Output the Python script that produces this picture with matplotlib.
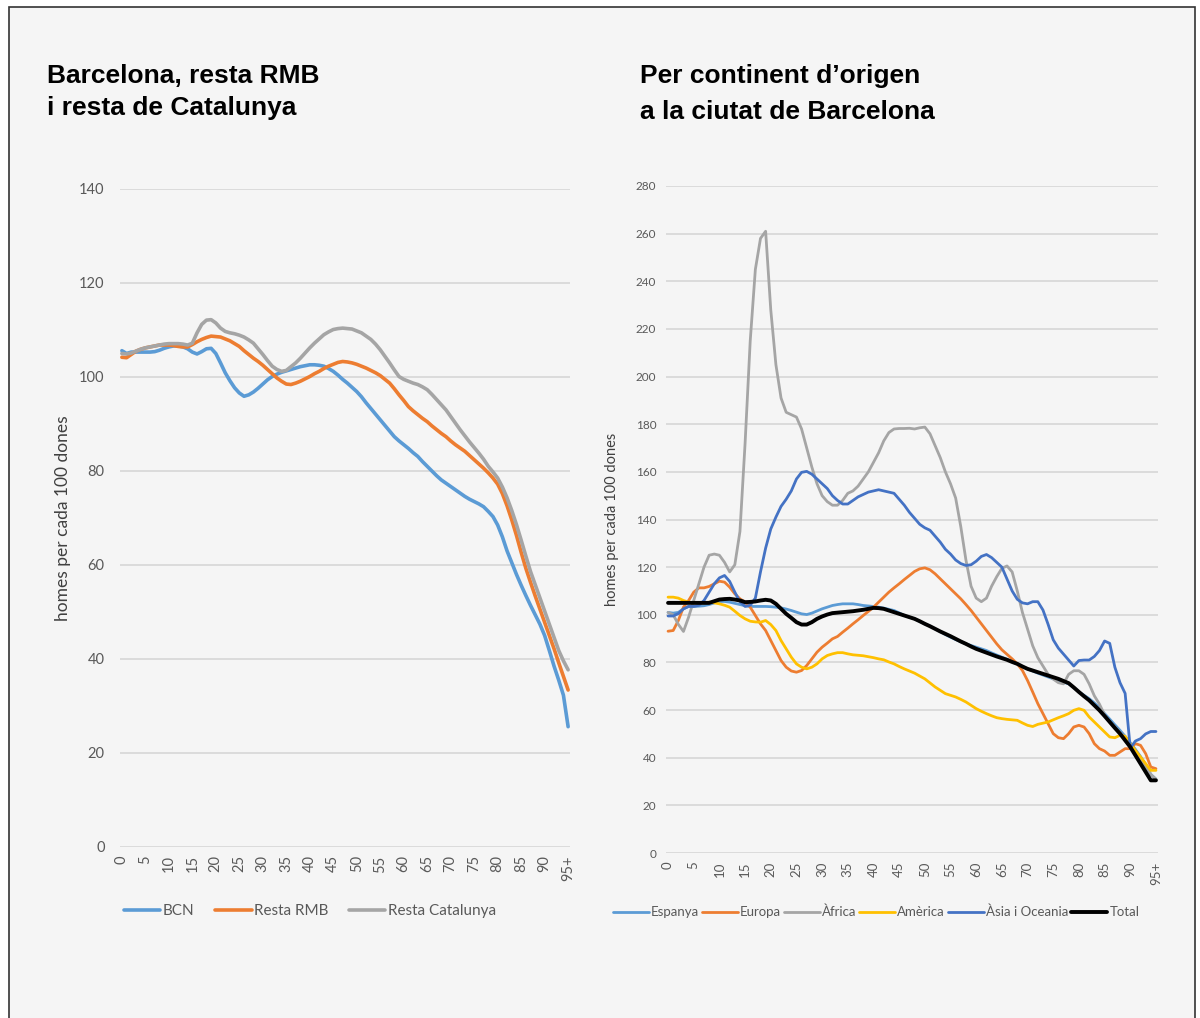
import matplotlib
matplotlib.use("Agg")
import matplotlib.pyplot as plt
from matplotlib.patches import Rectangle

# ---------------- data ----------------
ages = list(range(96))
age_tick_pos = list(range(0, 96, 5))
age_tick_labels = [str(a) for a in range(0, 95, 5)] + ["95+"]

# Left chart
bcn = [105.6, 105.0, 105.3, 105.3, 105.3, 105.3, 105.3, 105.4, 105.7, 106.1,
       106.4, 106.6, 106.6, 106.4, 106.0, 105.3, 104.9, 105.4, 106.0, 106.1,
       105.0, 103.0, 100.9, 99.2, 97.7, 96.6, 95.9, 96.2, 96.8, 97.6,
       98.5, 99.4, 100.1, 100.6, 101.0, 101.3, 101.6, 101.9, 102.2, 102.4,
       102.6, 102.6, 102.5, 102.3, 101.8, 101.2, 100.4, 99.5, 98.7, 97.8,
       96.9, 95.8, 94.5, 93.3, 92.1, 90.9, 89.7, 88.5, 87.3, 86.4,
       85.6, 84.8, 83.9, 83.1, 82.0, 81.0, 80.0, 79.0, 78.1, 77.4,
       76.7, 76.0, 75.3, 74.6, 74.0, 73.5, 73.0, 72.4, 71.4, 70.3,
       68.5, 66.0, 63.0, 60.5, 58.0, 55.7, 53.5, 51.4, 49.4, 47.4,
       45.0, 41.8, 38.5, 35.5, 32.3, 25.6]
resta_rmb = [104.2, 104.1, 104.8, 105.5, 105.9, 106.2, 106.4, 106.6, 106.8, 106.8,
             106.8, 106.7, 106.5, 106.4, 106.4, 106.9, 107.5, 108.0, 108.4, 108.7,
             108.6, 108.5, 108.1, 107.7, 107.1, 106.5, 105.6, 104.8, 104.0, 103.3,
             102.5, 101.6, 100.7, 99.8, 99.1, 98.5, 98.4, 98.7, 99.1, 99.6,
             100.1, 100.7, 101.2, 101.8, 102.3, 102.7, 103.1, 103.3, 103.2, 103.0,
             102.7, 102.3, 101.9, 101.4, 100.9, 100.3, 99.5, 98.7, 97.5, 96.2,
             95.0, 93.7, 92.8, 92.0, 91.2, 90.5, 89.6, 88.8, 88.0, 87.3,
             86.4, 85.6, 84.9, 84.2, 83.3, 82.4, 81.5, 80.6, 79.6, 78.5,
             77.2, 75.2, 72.6, 69.6, 66.3, 62.7, 59.3, 56.3, 53.4, 50.6,
             47.8, 45.0, 42.2, 39.2, 36.3, 33.4]
resta_cat = [105.0, 104.9, 105.1, 105.5, 105.9, 106.2, 106.4, 106.6, 106.8, 107.0,
             107.1, 107.1, 107.1, 107.0, 106.8, 107.2, 109.4, 111.2, 112.1, 112.2,
             111.5, 110.4, 109.7, 109.4, 109.2, 108.9, 108.5, 107.9, 107.2, 106.0,
             104.8, 103.5, 102.3, 101.6, 101.2, 101.4, 102.2, 103.0, 104.0, 105.1,
             106.2, 107.2, 108.1, 109.0, 109.6, 110.1, 110.3, 110.4, 110.3, 110.2,
             109.8, 109.4, 108.7, 108.0, 107.0, 105.8, 104.4, 103.0, 101.5, 100.1,
             99.5, 99.1, 98.7, 98.4, 97.9, 97.3, 96.3, 95.2, 94.1, 93.0,
             91.6, 90.2, 88.8, 87.5, 86.2, 85.0, 83.8, 82.5, 81.0, 79.8,
             78.5, 76.6, 74.3, 71.6, 68.6, 65.3, 61.9, 58.6, 55.8, 53.0,
             50.2, 47.4, 44.6, 41.8, 39.6, 37.7]

# Right chart
espanya = [101.0, 100.7, 101.0, 102.5, 103.5, 103.5, 103.6, 103.8, 104.3, 105.0,
           105.6, 105.6, 105.3, 104.8, 104.3, 103.8, 103.5, 103.5, 103.5, 103.5,
           103.4, 103.2, 102.9, 102.4, 101.8, 101.1, 100.4, 100.1, 100.7, 101.6,
           102.5, 103.2, 103.9, 104.3, 104.6, 104.6, 104.6, 104.3, 103.9, 103.7,
           103.5, 103.2, 102.8, 102.3, 101.8, 100.8, 99.7, 99.0, 98.3, 97.2,
           96.2, 95.2, 94.1, 92.9, 91.7, 90.6, 89.6, 88.7, 87.8, 87.1,
           86.4, 85.7, 85.0, 84.0, 83.1, 82.2, 81.3, 80.3, 79.4, 78.3,
           77.3, 76.4, 75.5, 74.7, 73.9, 73.1, 72.4, 71.7, 71.0, 69.5,
           67.6, 66.2, 64.8, 63.0, 61.0, 58.5, 56.2, 53.8, 51.5, 49.0,
           46.3, 43.5, 40.5, 37.0, 33.0, 31.0]
europa = [93.1, 93.4, 97.6, 103.2, 106.0, 109.5, 111.3, 111.3, 111.9, 113.0,
          114.1, 113.7, 111.6, 108.8, 106.7, 105.3, 103.2, 99.7, 96.2, 93.4,
          89.2, 85.0, 80.8, 78.0, 76.4, 75.9, 76.6, 78.7, 81.5, 84.3,
          86.4, 88.1, 89.9, 90.9, 92.7, 94.4, 96.2, 97.9, 99.7, 101.4,
          103.2, 105.3, 107.4, 109.5, 111.3, 113.0, 114.8, 116.5, 118.2, 119.3,
          119.7, 118.9, 117.2, 115.1, 113.0, 110.9, 108.8, 106.7, 104.3, 101.8,
          99.0, 96.2, 93.4, 90.6, 87.8, 85.3, 83.4, 81.5, 79.4, 76.6,
          72.4, 67.6, 62.7, 58.5, 54.3, 50.1, 48.4, 48.0, 50.1, 52.9,
          53.6, 52.9, 50.1, 45.9, 43.8, 42.8, 41.0, 41.0, 42.4, 43.8,
          43.8, 45.9, 45.2, 41.7, 36.1, 35.4]
africa = [101.0, 100.0, 96.0, 93.0, 99.0, 106.0, 113.0, 120.0, 125.0, 125.5,
          125.0, 122.0, 118.0, 121.0, 135.0, 172.0, 215.0, 245.0, 258.0, 261.0,
          228.0, 205.0, 191.0, 185.0, 184.0, 183.0, 178.0, 170.0, 162.0, 155.0,
          150.0, 147.5, 146.0, 146.0, 148.0, 151.0, 152.0, 154.0, 157.0, 160.0,
          164.0, 168.0, 173.0, 176.5, 178.0, 178.2, 178.2, 178.3, 178.0, 178.5,
          178.8, 176.0, 171.0, 166.0, 160.0, 155.0, 149.0, 137.0, 123.0, 112.0,
          107.0, 105.5, 107.0, 112.0, 116.0, 119.5, 120.5, 118.0, 110.0, 101.0,
          94.0, 87.0, 82.0, 78.5, 75.0, 73.0, 71.5, 71.0, 75.0, 76.5,
          76.5, 75.0, 71.0, 66.0, 62.5, 58.0, 55.0, 53.0, 50.5, 48.5,
          45.0, 41.5, 39.0, 36.0, 33.0, 31.0]
america = [107.4, 107.4, 107.0, 106.0, 105.3, 105.0, 104.9, 105.0, 105.3, 105.0,
           104.6, 104.0, 103.2, 101.5, 99.7, 98.3, 97.3, 97.0, 96.9, 97.6,
           95.9, 93.4, 89.2, 85.7, 82.2, 79.4, 78.0, 77.3, 78.0, 79.4,
           81.5, 82.9, 83.6, 84.1, 84.1, 83.6, 83.2, 83.0, 82.8, 82.4,
           82.0, 81.5, 81.1, 80.2, 79.4, 78.3, 77.3, 76.4, 75.5, 74.3,
           73.1, 71.4, 69.7, 68.3, 66.9, 66.2, 65.5, 64.5, 63.4, 62.0,
           60.6, 59.5, 58.5, 57.6, 56.8, 56.4, 56.1, 55.9, 55.7, 54.6,
           53.6, 53.1, 54.0, 54.5, 55.0, 55.9, 56.8, 57.6, 58.5, 59.9,
           60.6, 59.9, 57.1, 55.0, 52.9, 50.8, 48.7, 48.4, 49.4, 49.0,
           45.9, 43.1, 40.3, 37.5, 34.7, 34.7]
asia_oceania = [99.5, 99.5, 100.5, 102.5, 103.5, 103.5, 104.0, 106.0, 109.5, 113.0,
                115.5, 116.5, 114.0, 109.5, 105.5, 103.5, 104.0, 107.0, 118.0, 128.0,
                136.0, 141.0, 145.5, 148.5, 152.0, 157.0, 159.8, 160.2, 159.0, 157.0,
                155.0, 153.0, 150.0, 148.0, 146.5, 146.5, 148.0, 149.5, 150.5, 151.5,
                152.0, 152.5, 152.0, 151.5, 151.0, 148.5, 146.0, 143.0, 140.5, 138.0,
                136.5, 135.5, 133.0, 130.5, 127.5, 125.5, 123.0, 121.5, 120.7, 121.0,
                122.5, 124.5, 125.3, 124.0, 122.0, 120.0, 115.0, 110.0, 106.5, 105.0,
                104.6, 105.5, 105.5, 102.0, 96.0, 89.5, 86.0, 83.5, 81.0, 78.5,
                80.8, 81.0, 81.0, 82.5, 85.0, 89.0, 88.0, 78.0, 71.5, 67.0,
                44.0, 47.0, 48.0, 50.0, 51.0, 51.0]
total = [105.0, 105.0, 105.0, 105.0, 105.0, 105.0, 105.0, 105.0, 105.0, 105.7,
         106.4, 106.6, 106.7, 106.4, 106.0, 105.3, 105.4, 105.6, 106.0, 106.3,
         106.0, 104.6, 102.5, 100.4, 98.7, 96.9, 95.9, 95.9, 96.9, 98.3,
         99.3, 100.1, 100.7, 100.9, 101.1, 101.3, 101.5, 101.8, 102.1, 102.5,
         102.9, 102.8, 102.5, 101.8, 101.1, 100.4, 99.7, 99.0, 98.3, 97.3,
         96.2, 95.2, 94.1, 93.0, 92.0, 91.0, 89.9, 88.8, 87.8, 86.7,
         85.7, 84.9, 84.1, 83.3, 82.5, 81.8, 81.1, 80.2, 79.4, 78.3,
         77.3, 76.6, 75.9, 75.2, 74.5, 73.8, 73.1, 72.2, 71.3, 69.5,
         67.6, 65.8, 64.1, 62.0, 59.9, 57.5, 55.0, 52.5, 50.1, 47.3,
         44.5, 41.0, 37.5, 34.0, 30.5, 30.5]

left_series = [("BCN", bcn, "#5B9BD5"),
               ("Resta RMB", resta_rmb, "#ED7D31"),
               ("Resta Catalunya", resta_cat, "#A5A5A5")]
right_series = [("Espanya", espanya, "#5B9BD5", 2.0),
                ("Europa", europa, "#ED7D31", 2.0),
                ("Àfrica", africa, "#A5A5A5", 2.0),
                ("Amèrica", america, "#FFC000", 2.0),
                ("Àsia i Oceania", asia_oceania, "#4472C4", 2.0),
                ("Total", total, "#000000", 2.8)]

# ---------------- figure ----------------
W, H = 1200, 1018
fig = plt.figure(figsize=(W / 100, H / 100), dpi=100, facecolor="white")

# panel background with border (behind everything)
bg = Rectangle((9 / W, -0.05), (1195 - 9) / W, (H - 7) / H + 0.05,
               transform=fig.transFigure, facecolor="#f5f5f5",
               edgecolor="#333333", linewidth=1.2, zorder=-10)
fig.add_artist(bg)

title_font = dict(family=["Liberation Sans", "DejaVu Sans"], weight="bold",
                  size=19, color="black")
fig.text(47 / W, 1 - 64 / H, "Barcelona, resta RMB\ni resta de Catalunya",
         ha="left", va="top", linespacing=1.42, **title_font)
fig.text(640 / W, 1 - 64 / H, "Per continent d\u2019origen\na la ciutat de Barcelona",
         ha="left", va="top", linespacing=1.62, **title_font)

tick_font = ["Lato", "DejaVu Sans"]
grey_txt = "#595959"


def style_axes(ax, ymax, ystep, label_size, xtick_size, ytick_size,
               ypad, ylab_pad):
    ax.set_facecolor("none")
    ax.set_zorder(1)
    for s in ax.spines.values():
        s.set_visible(False)
    ax.set_ylim(0, ymax)
    ax.set_xlim(-0.4, 95.4)
    ax.set_yticks(range(0, ymax + 1, ystep))
    ax.yaxis.grid(True, color="#d9d9d9", linewidth=1.3)
    ax.set_axisbelow(True)
    ax.tick_params(axis="both", length=0, colors=grey_txt)
    ax.tick_params(axis="y", pad=ypad, labelsize=ytick_size)
    ax.tick_params(axis="x", pad=6, labelsize=xtick_size)
    ax.set_xticks(age_tick_pos)
    ax.set_xticklabels(age_tick_labels, rotation=90, ha="center", va="top")
    for lab in ax.get_xticklabels() + ax.get_yticklabels():
        lab.set_family(tick_font)
    ax.set_ylabel("homes per cada 100 dones", family=tick_font,
                  color="#404040", fontsize=label_size, labelpad=ylab_pad)


# Left chart
axL = fig.add_axes([120 / W, 1 - 847 / H, 450 / W, (847 - 189) / H])
for name, vals, col in left_series:
    axL.plot(ages, vals, color=col, linewidth=2.6, label=name,
             solid_capstyle="round")
style_axes(axL, 140, 20, 12.5, 10.5, 10.5, 11, 6)

legL = axL.legend(loc="center left", bbox_to_anchor=(116 / W, 1 - 911 / H),
                  bbox_transform=fig.transFigure, ncol=3, frameon=False,
                  borderpad=0, handlelength=2.4, handletextpad=0.15,
                  columnspacing=1.35, prop={"family": tick_font, "size": 11})
for t in legL.get_texts():
    t.set_color(grey_txt)

# Right chart
axR = fig.add_axes([666 / W, 1 - 853 / H, 492 / W, (853 - 186) / H])
for name, vals, col, lw in right_series:
    axR.plot(ages, vals, color=col, linewidth=lw, label=name,
             solid_capstyle="round")
style_axes(axR, 280, 20, 10.5, 9.5, 8.5, 7, 12)

legR = axR.legend(loc="center left", bbox_to_anchor=(606 / W, 1 - 912 / H),
                  bbox_transform=fig.transFigure, ncol=6, frameon=False,
                  borderpad=0, handlelength=2.75, handletextpad=0.15,
                  columnspacing=0.2, prop={"family": tick_font, "size": 9.5})
for t in legR.get_texts():
    t.set_color(grey_txt)

fig.savefig("out.png", dpi=100, facecolor="white")
